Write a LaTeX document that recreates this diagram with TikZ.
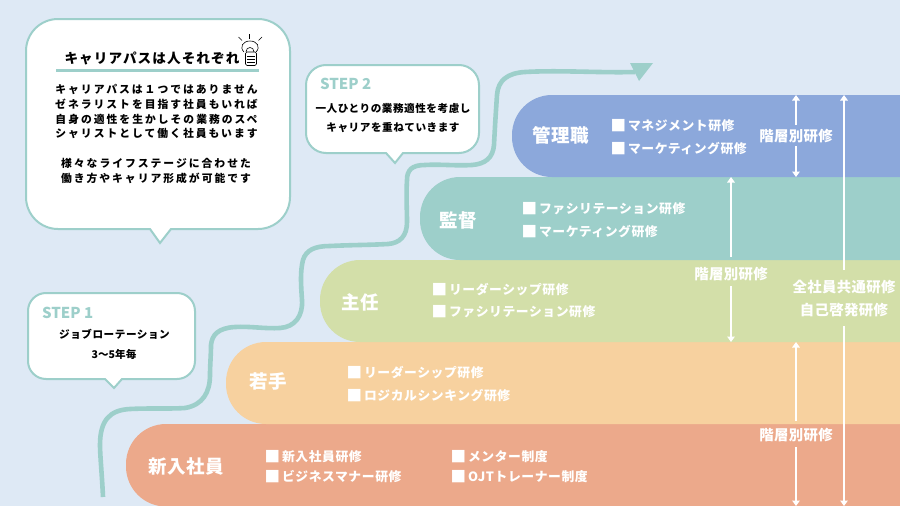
\documentclass[tikz,border=0pt]{standalone}
\usepackage{fontspec}
\setmainfont{Noto Sans CJK JP}
\newcommand{\jp}[2]{\fontsize{#1}{#1}\selectfont\bfseries\addfontfeature{LetterSpace=#2}}
\definecolor{bgc}{HTML}{DEE9F5}
\definecolor{tealc}{HTML}{9DCFCA}
\definecolor{bluec}{HTML}{8CA8DB}
\definecolor{greenc}{HTML}{D3DFA9}
\definecolor{orangec}{HTML}{F7D19F}
\definecolor{salmonc}{HTML}{ECA98B}
\tikzset{
  x=1pt,y=-1pt,
  bubble/.style={draw=tealc,fill=white,line width=2pt,line join=miter},
  stepline/.style={draw=tealc,line width=4.6pt},
  txt/.style={inner sep=0pt,outer sep=0pt,text=black,font=\jp{10.8}{18.5}},
  steptxt/.style={inner sep=0pt,outer sep=0pt,text=black,font=\jp{10.6}{5}},
  steplab/.style={inner sep=0pt,outer sep=0pt,anchor=west,text=tealc,font=\jp{15}{0}},
  rank/.style={inner sep=0pt,outer sep=0pt,text=white,font=\jp{18.5}{2}},
  item/.style={inner sep=0pt,outer sep=0pt,anchor=west,text=white,font=\jp{12.8}{4.5}},
  train/.style={inner sep=0pt,outer sep=0pt,text=white,font=\jp{14.4}{2.5}},
  arr/.style={draw=white,line width=2.5pt,-{Triangle[width=7.5pt,length=5.5pt]}},
}
\usetikzlibrary{arrows.meta}
\newcommand{\sq}{\makebox[16.5pt][l]{\hspace{-1pt}\raisebox{-0.9pt}{\fontsize{15.5}{15.5}\selectfont ■}}}
\begin{document}
\begin{tikzpicture}
\useasboundingbox (0,0) rectangle (900,506);
\fill[bgc] (0,0) rectangle (900,506);

% route
\draw[stepline] (103,497) .. controls (102,475) and (100,455) .. (100,445)
  .. controls (100,420) and (110,410) .. (130,409)
  .. controls (150,408) and (170,409) .. (185,408)
  .. controls (203,405) and (210,392) .. (210,375)
  .. controls (210,365) and (211,355) .. (211,345)
  .. controls (212,335) and (218,328) .. (235,327)
  .. controls (250,326) and (265,329) .. (280,328)
  .. controls (295,327) and (303,316) .. (302,300)
  .. controls (301,285) and (300,272) .. (303,260)
  .. controls (306,250) and (315,246) .. (330,246)
  .. controls (350,245) and (370,245) .. (388,244)
  .. controls (400,243) and (407,236) .. (407,222)
  .. controls (407,210) and (406,195) .. (407,180)
  .. controls (407,170) and (412,165) .. (425,165)
  .. controls (440,164) and (455,166) .. (472,165)
  .. controls (485,164) and (493,158) .. (494,145)
  .. controls (495,125) and (496,110) .. (497,95)
  .. controls (498,80) and (508,73) .. (525,72)
  .. controls (560,70) and (600,73) .. (635,72);
\fill[tealc] (630,63) -- (653,63) -- (639,81) -- cycle;

% bands
\begin{scope}
\clip (0,0) rectangle (900,506);
\fill[salmonc, rounded corners=40pt] (126,424) rectangle (940,506.5);
\fill[orangec, rounded corners=40pt] (226,342) rectangle (940,424);
\fill[greenc, rounded corners=40pt] (320,260) rectangle (940,342);
\fill[tealc, rounded corners=40pt] (420,177) rectangle (940,260);
\fill[bluec, rounded corners=40pt] (512,95) rectangle (940,177);
\end{scope}

% rank labels
\node[rank] (r1) at (186,466) {新入社員};
\node[rank] (r2) at (268,381) {若手};
\node[rank] (r3) at (360,302) {主任};
\node[rank] (r4) at (458.5,220) {監督};
\node[rank] (r5) at (561,135) {管理職};

% items
\node[item] (i51) at (611.5,125.5) {\sq マネジメント研修};
\node[item] (i52) at (611.5,148.5) {\sq マーケティング研修};
\node[item] (i41) at (522.5,208.5) {\sq ファシリテーション研修};
\node[item] (i42) at (522.5,231.5) {\sq マーケティング研修};
\node[item] (i31) at (432.5,289.5) {\sq リーダーシップ研修};
\node[item] (i32) at (432.5,311.5) {\sq ファシリテーション研修};
\node[item] (i21) at (347.5,372.5) {\sq リーダーシップ研修};
\node[item] (i22) at (347.5,396) {\sq ロジカルシンキング研修};
\node[item] (i11) at (265.5,456.5) {\sq 新入社員研修};
\node[item] (i12) at (265.5,476.5) {\sq ビジネスマナー研修};
\node[item] (i13) at (451.5,456.5) {\sq メンター制度};
\node[item] (i14) at (451.5,476.5) {\sq OJTトレーナー制度};

% training labels and arrows
\node[train] (t5) at (796,136) {階層別研修};
\node[train] (t3) at (731,274) {階層別研修};
\node[train] (t1) at (796,435) {階層別研修};
\node[train] (c1) at (844,287) {全社員共通研修};
\node[train] (c2) at (844,310) {自己啓発研修};
\coordinate (a5u) at (796,95);
\coordinate (a5d) at (796,177);
\coordinate (a3u) at (731,177);
\coordinate (a3d) at (731,342);
\coordinate (a1u) at (796,342);
\coordinate (a1d) at (796,506);
\coordinate (cu) at (844,95);
\coordinate (cd) at (844,506);
\draw[arr] (796,125) -- (a5u);
\draw[arr] (796,146) -- (a5d);
\draw[arr] (731,257) -- (a3u);
\draw[arr] (731,286) -- (a3d);
\draw[arr] (796,421) -- (a1u);
\draw[arr] (796,447) -- (a1d);
\draw[arr] (844,270) -- (cu);
\draw[arr] (844,326) -- (cd);

% main bubble
\draw[bubble] (158,19) [rounded corners=32pt] -- (290,19) -- (290,229) -- (210,229) [sharp corners] -- (171,229) -- (160,243) -- (150,229) -- (100,229) [rounded corners=32pt] -- (26,229) -- (26,19) -- cycle;
\node[inner sep=0pt,outer sep=0pt,text=black,font=\jp{13.6}{8}] (title) at (152,58) {キャリアパスは人それぞれ};
\fill[tealc] (55.5,69) rectangle (259,71.5);
\node[txt] (b1) at (156.5,89) {キャリアパスは１つではありません};
\node[txt] (b2) at (156.5,104) {ゼネラリストを目指す社員もいれば};
\node[txt] (b3) at (156.5,119) {自身の適性を生かしその業務のスペ};
\node[txt] (b4) at (156.5,133) {シャリストとして働く社員もいます};
\node[txt] (b5) at (156,163) {様々なライフステージに合わせた};
\node[txt] (b6) at (156,178) {働き方やキャリア形成が可能です};

% bulb
\begin{scope}[draw=black,line width=0.6pt]
\draw (249,34) -- (249,39);
\draw (238.5,37) -- (242,40.5);
\draw (262,37) -- (258.5,40.5);
\draw (244,52) .. controls (239,47) and (243,41) .. (250,41) .. controls (257,41) and (261,47) .. (256,52);
\draw (246,52) .. controls (246,46) and (254,46) .. (254,52);
\draw[fill=white,rounded corners=1.5pt] (245.5,52) rectangle (256.5,65.5);
\draw (247,56) -- (255,56);
\draw (247,59) -- (255,59);
\draw (247,62) -- (255,62);
\end{scope}

% step 2
\draw[bubble] (390,65) [rounded corners=20pt] -- (479,65) -- (479,153) -- (430,153) [sharp corners] -- (403,153) -- (395,163) -- (386,153) -- (360,153) [rounded corners=20pt] -- (306,153) -- (306,65) -- cycle;
\node[steplab] (s2) at (320,84) {STEP 2};
\node[steptxt] (s21) at (393,108) {一人ひとりの業務適性を考慮し};
\node[steptxt] (s22) at (393,128) {キャリアを重ねていきます};

% step 1
\draw[bubble] (110,293) [rounded corners=18pt] -- (195,293) -- (195,379) -- (150,379) [sharp corners] -- (122,379) -- (114,388) -- (105,379) -- (80,379) [rounded corners=18pt] -- (28,379) -- (28,293) -- cycle;
\node[steplab] (s1) at (42,313) {STEP 1};
\node[steptxt] (s11) at (114.5,334) {ジョブローテーション};
\node[inner sep=0pt,outer sep=0pt,text=black,font=\jp{10.6}{0}] (s12) at (114,354) {3〜5年毎};
\end{tikzpicture}
\end{document}
